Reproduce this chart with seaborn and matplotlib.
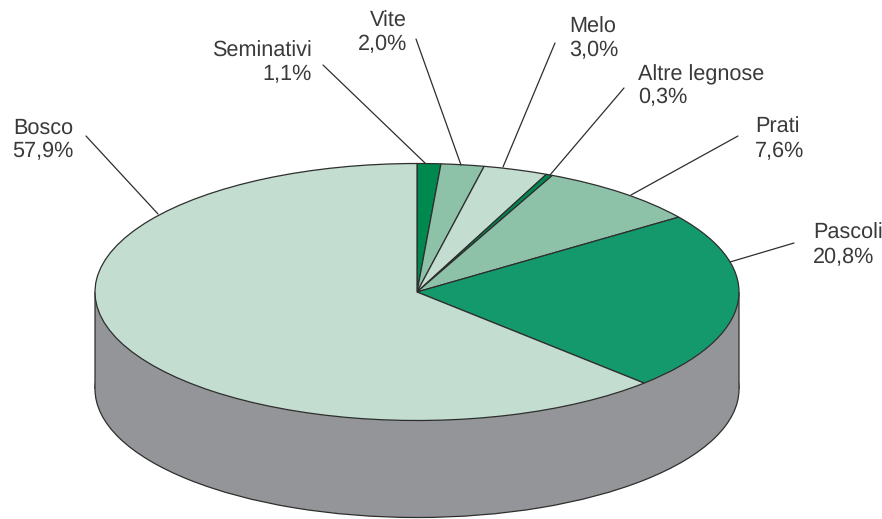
import matplotlib
matplotlib.use("Agg")
import matplotlib.pyplot as plt
import seaborn as sns

categories = ["Seminativi", "Vite", "Melo", "Altre legnose", "Prati", "Pascoli", "Bosco"]
shares = [1.1, 2.0, 3.0, 0.3, 7.6, 20.8, 57.9]
slice_colors = ["#00894f", "#8dc2a9", "#c3ddd0", "#00894f", "#8dc2a9", "#14996d", "#c3ddd0"]

# pie geometry in image pixels
W, H = 882, 519
CX, CY = 417, 292
RX, RY = 322, 128.5
DEPTH = 97
EDGE = "#2e2e2e"
TEXT = "#3a3a3a"

sns.set_theme(style="white")
plt.rcParams["font.family"] = ["Liberation Sans", "DejaVu Sans"]
plt.rcParams["text.hinting"] = "none"


def px(x, y):
    return (x - CX) / RX, (CY - y) / RY


fig = plt.figure(figsize=(W / 100, H / 100), dpi=100)
ax = fig.add_axes([0, 0, 1, 1])

# side of the cylinder
edge = dict(edgecolor=EDGE, linewidth=0.9)
ax.pie([1], colors=["#939598"], radius=1, center=(0, -DEPTH / RY), startangle=0,
       wedgeprops=dict(zorder=1, **edge))
ax.fill_between([-1, 1], 0, -DEPTH / RY, color="#939598", lw=0, zorder=2)
ax.vlines([-1, 1], -DEPTH / RY, 0, color=EDGE, lw=0.9, zorder=3, capstyle="butt", snap=False)

# top face
ax.pie(shares, colors=sns.color_palette(slice_colors), radius=1, center=(0, 0),
       startangle=90, counterclock=False, wedgeprops=dict(zorder=4, **edge))

ax.set_aspect("auto")
ax.set_xlim(*[px(v, 0)[0] for v in (0, W)])
ax.set_ylim(*[px(0, v)[1] for v in (H, 0)])
ax.set_axis_off()

# label: anchor x, ha, name baseline, value baseline, leader start, leader end
layout = {
    "Seminativi": (312, "right", 57, 80, (323, 65), (425, 163)),
    "Vite": (407, "right", 27, 50, (416, 39), (461, 165)),
    "Melo": (569, "left", 33, 56, (555, 43), (503, 167)),
    "Altre legnose": (638, "left", 80, 103, (624, 88), (550, 175)),
    "Prati": (755, "left", 133, 157, (738, 136), (631, 195)),
    "Pascoli": (813, "left", 239, 263, (794, 243), (730, 262)),
    "Bosco": (73, "right", 134, 157, (86, 136), (158, 214)),
}

for name, value in zip(categories, shares):
    x, ha, y1, y2, p0, p1 = layout[name]
    for y, s in ((y1, name), (y2, f"{value:.1f}%".replace(".", ","))):
        ax.text(*px(x, y), s, ha=ha, va="baseline", fontsize=15.6,
                color=TEXT, zorder=6)
    a, b = px(*p0), px(*p1)
    ax.plot([a[0], b[0]], [a[1], b[1]], color=EDGE, lw=0.9, zorder=5)

fig.savefig("out.png", dpi=100)
